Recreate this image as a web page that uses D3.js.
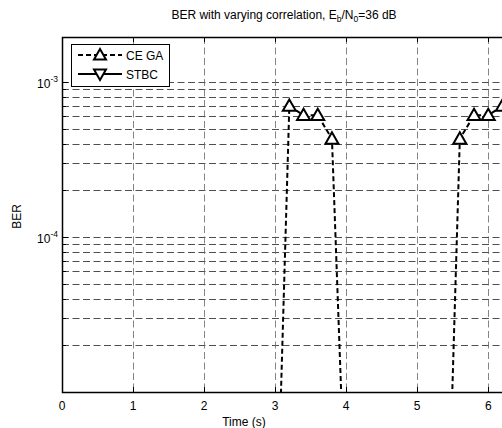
<!DOCTYPE html>
<html><head><meta charset="utf-8">
<script src="https://cdn.jsdelivr.net/npm/d3@7"></script>
<style>body{margin:0;background:#fff}svg{display:block;font-family:"Liberation Sans",Arial,sans-serif}</style>
</head><body><svg id="c" width="502" height="428"></svg>
<script>
// Data
const ceTime = [3.0, 3.2, 3.4, 3.6, 3.8, 4.0, 5.4, 5.6, 5.8, 6.0, 6.2];
const ceBer  = [5e-7, 7.0e-4, 6.1e-4, 6.1e-4, 4.3e-4, 1.3e-6, 3.6e-7, 4.3e-4, 6.1e-4, 6.1e-4, 7.0e-4];
const stbcTime = [];
const stbcBer = [];
const xTicks = [0, 1, 2, 3, 4, 5, 6];
const yMajor = [1e-3, 1e-4];
const seriesNames = ["CE GA", "STBC"];

const svg = d3.select("#c");
const L = 62, R = 506, T = 37, B = 392;
const x = d3.scaleLinear().domain([0, 6.25]).range([L, R]);
const y = d3.scaleLog().domain([1e-5, 1.95e-3]).range([B, T]);

const yGrid = [];
for (let e = -5; e <= -3; e++) for (let m = 1; m <= 9; m++) {
  const v = m * Math.pow(10, e);
  if (v > 1e-5 && v < 1.95e-3) yGrid.push(v);
}

svg.append("clipPath").attr("id", "pc").append("rect")
  .attr("x", L).attr("y", T).attr("width", R - L).attr("height", B - T);

const g = svg.append("g");
g.selectAll(".hg").data(yGrid).join("line")
  .attr("x1", L).attr("x2", R)
  .attr("y1", d => Math.round(y(d)) + 0.5).attr("y2", d => Math.round(y(d)) + 0.5)
  .attr("stroke", "#222").attr("stroke-width", 0.8).attr("stroke-dasharray", "7,3.5");
g.selectAll(".vg").data(xTicks.filter(d => d > 0)).join("line")
  .attr("x1", d => Math.round(x(d)) + 0.5).attr("x2", d => Math.round(x(d)) + 0.5)
  .attr("y1", T).attr("y2", B)
  .attr("stroke", "#666").attr("stroke-width", 0.8).attr("stroke-dasharray", "7,3.5");

const tk = svg.append("g").attr("stroke", "#000").attr("stroke-width", 1);
xTicks.forEach(d => {
  const px = Math.round(x(d)) + 0.5;
  tk.append("line").attr("x1", px).attr("x2", px).attr("y1", B).attr("y2", B - 5);
  tk.append("line").attr("x1", px).attr("x2", px).attr("y1", T).attr("y2", T + 5);
});
yGrid.concat(yMajor).forEach(d => {
  const py = Math.round(y(d)) + 0.5;
  const len = yMajor.includes(d) ? 6 : 4;
  tk.append("line").attr("x1", L).attr("x2", L + len).attr("y1", py).attr("y2", py);
});

svg.append("rect").attr("x", L + 0.5).attr("y", T + 0.5).attr("width", R - L).attr("height", B - T)
  .attr("fill", "none").attr("stroke", "#000").attr("stroke-width", 1.5);

const pg = svg.append("g").attr("clip-path", "url(#pc)");
const pts = ceTime.map((t, i) => [t, ceBer[i]]);
pg.append("path").datum(pts)
  .attr("d", d3.line().x(d => x(d[0])).y(d => y(d[1])))
  .attr("fill", "none").attr("stroke", "#000").attr("stroke-width", 2).attr("stroke-dasharray", "5,3");
const tri = (cx, cy, s, up) => up
  ? `M${cx},${cy - s}L${cx + s},${cy + s * 0.75}L${cx - s},${cy + s * 0.75}Z`
  : `M${cx},${cy + s}L${cx + s},${cy - s * 0.75}L${cx - s},${cy - s * 0.75}Z`;
pg.selectAll(".m").data(pts.filter(d => d[1] >= 1e-5)).join("path")
  .attr("d", d => tri(x(d[0]), y(d[1]), 6.5, true))
  .attr("fill", "#fff").attr("stroke", "#000").attr("stroke-width", 2);
const spts = stbcTime.map((t, i) => [t, stbcBer[i]]);
if (spts.length) pg.append("path").datum(spts)
  .attr("d", d3.line().x(d => x(d[0])).y(d => y(d[1])))
  .attr("fill", "none").attr("stroke", "#000").attr("stroke-width", 2);

const FS = 12;
svg.append("g").selectAll("text").data(xTicks).join("text")
  .attr("x", d => x(d)).attr("y", 410).attr("text-anchor", "middle")
  .attr("font-size", FS).text(d => d);
yMajor.forEach(d => {
  const t = svg.append("text").attr("x", 58).attr("y", y(d) + 6).attr("text-anchor", "end").attr("font-size", FS);
  t.append("tspan").text("10");
  t.append("tspan").attr("dy", -6).attr("font-size", 8.5).text(String(Math.round(Math.log10(d))));
});

svg.append("text").attr("x", 244).attr("y", 426).attr("text-anchor", "middle").attr("font-size", FS).text("Time (s)");
svg.append("text").attr("transform", `translate(21,${(T + B) / 2 + 2}) rotate(-90)`).attr("text-anchor", "middle")
  .attr("font-size", FS).text("BER");
const title = svg.append("text").attr("x", 284).attr("y", 19).attr("text-anchor", "middle").attr("font-size", FS);
title.append("tspan").text("BER with varying correlation, E");
title.append("tspan").attr("font-size", 8.5).attr("dy", 3).text("b");
title.append("tspan").attr("dy", -3).text("/N");
title.append("tspan").attr("font-size", 8.5).attr("dy", 3).text("0");
title.append("tspan").attr("dy", -3).text("=36 dB");

const lg = svg.append("g");
lg.append("rect").attr("x", 71.5).attr("y", 44.5).attr("width", 98).attr("height", 42)
  .attr("fill", "#fff").attr("stroke", "#000").attr("stroke-width", 1);
seriesNames.forEach((n, i) => {
  const ly = 55 + i * 19;
  lg.append("line").attr("x1", 78).attr("x2", 122).attr("y1", ly).attr("y2", ly)
    .attr("stroke", "#000").attr("stroke-width", 2).attr("stroke-dasharray", i === 0 ? "5,3" : null);
  lg.append("path").attr("d", tri(100, ly, 6, i === 0)).attr("fill", "#fff").attr("stroke", "#000").attr("stroke-width", 2);
  lg.append("text").attr("x", 126).attr("y", ly + 4.5).attr("font-size", FS).text(n);
});
</script></body></html>
